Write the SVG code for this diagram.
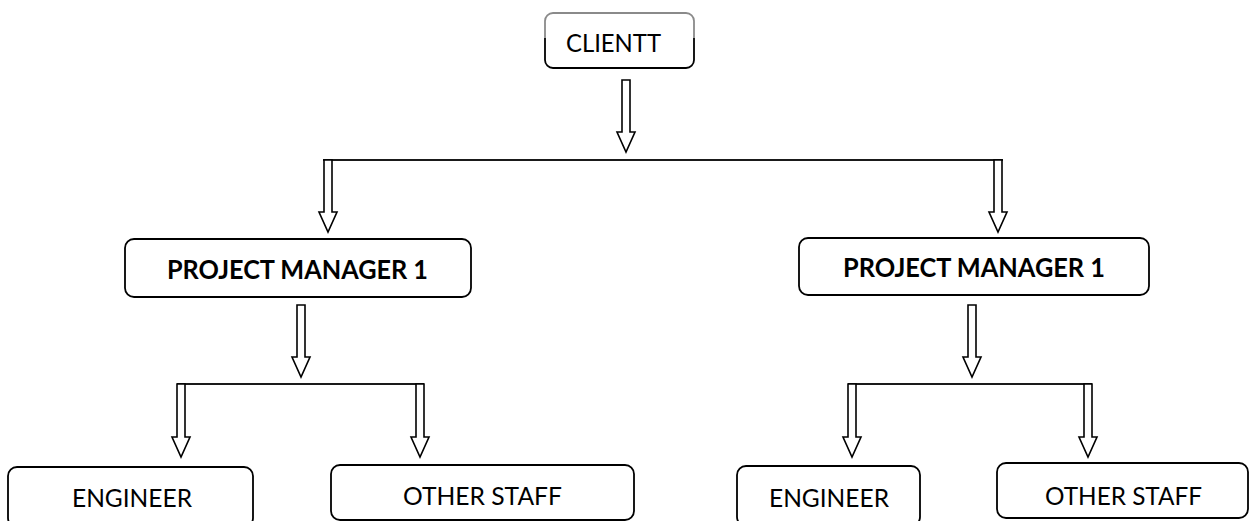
<svg xmlns="http://www.w3.org/2000/svg" width="1256" height="521" viewBox="0 0 1256 521">
  <style>
    .box { fill: #ffffff; stroke: #000000; stroke-width: 1.8; }
    .label { font-family: Lato, "Liberation Sans", Arial, sans-serif; font-size: 25.5px; fill: #000000; }
    .bold { font-weight: bold; font-size: 26px; }
    .bar { fill: none; stroke: #1a1a1a; stroke-width: 2; }
    .arrow { fill: #ffffff; stroke: #000000; stroke-width: 1.6; stroke-linejoin: miter; }
  </style>
  <defs>
    <!-- upper part of the client box outline is a lighter grey -->
    <linearGradient id="clientStroke" gradientUnits="userSpaceOnUse" x1="0" y1="13" x2="0" y2="68">
      <stop offset="0" stop-color="#8a8a8a"/>
      <stop offset="0.45" stop-color="#8a8a8a"/>
      <stop offset="0.45" stop-color="#000000"/>
      <stop offset="1" stop-color="#000000"/>
    </linearGradient>
  </defs>

  <g id="connectors">
    <!-- client to project managers -->
    <path class="arrow" d="M 622 80 L 630 80 L 630 132 L 635 132 L 626 152 L 617 132 L 622 132 Z"/>
    <path class="bar" d="M 323 160 L 1003 160"/>
    <path class="arrow" d="M 324 160 L 332 160 L 332 212 L 337 212 L 328 232 L 319 212 L 324 212 Z"/>
    <path class="arrow" d="M 994 160 L 1002 160 L 1002 212 L 1007 212 L 998 232 L 989 212 L 994 212 Z"/>

    <!-- left project manager to staff -->
    <path class="arrow" d="M 297 305 L 305 305 L 305 357 L 310 357 L 301 377 L 292 357 L 297 357 Z"/>
    <path class="bar" d="M 177 384 L 424 384"/>
    <path class="arrow" d="M 177 384 L 185 384 L 185 437 L 190 437 L 181 457 L 172 437 L 177 437 Z"/>
    <path class="arrow" d="M 416 384 L 424 384 L 424 437 L 429 437 L 420 457 L 411 437 L 416 437 Z"/>

    <!-- right project manager to staff -->
    <path class="arrow" d="M 968 305 L 976 305 L 976 357 L 981 357 L 972 377 L 963 357 L 968 357 Z"/>
    <path class="bar" d="M 848 384 L 1092 384"/>
    <path class="arrow" d="M 848 384 L 856 384 L 856 437 L 861 437 L 852 457 L 843 437 L 848 437 Z"/>
    <path class="arrow" d="M 1084 384 L 1092 384 L 1092 437 L 1097 437 L 1088 457 L 1079 437 L 1084 437 Z"/>
  </g>

  <g id="client">
    <rect x="545" y="13" width="149" height="55" rx="8" fill="#ffffff" stroke="url(#clientStroke)" stroke-width="1.8"/>
    <text class="label" x="566" y="52" textLength="95" lengthAdjust="spacingAndGlyphs">CLIENTT</text>
  </g>

  <g id="pm-left">
    <rect class="box" x="125" y="239" width="346" height="58" rx="9"/>
    <text class="label bold" x="167" y="279" textLength="261" lengthAdjust="spacingAndGlyphs">PROJECT MANAGER 1</text>
  </g>

  <g id="pm-right">
    <rect class="box" x="799" y="238" width="350" height="57" rx="9"/>
    <text class="label bold" x="843" y="277" textLength="262" lengthAdjust="spacingAndGlyphs">PROJECT MANAGER 1</text>
  </g>

  <g id="engineer-left">
    <rect class="box" x="8" y="467" width="245" height="60" rx="9"/>
    <text class="label" x="72" y="507" textLength="120" lengthAdjust="spacingAndGlyphs">ENGINEER</text>
  </g>

  <g id="staff-left">
    <rect class="box" x="331" y="465" width="303" height="55" rx="9"/>
    <text class="label" x="403" y="505" textLength="159" lengthAdjust="spacingAndGlyphs">OTHER STAFF</text>
  </g>

  <g id="engineer-right">
    <rect class="box" x="737" y="466" width="183" height="60" rx="9"/>
    <text class="label" x="769" y="507" textLength="120" lengthAdjust="spacingAndGlyphs">ENGINEER</text>
  </g>

  <g id="staff-right">
    <rect class="box" x="997" y="463" width="251" height="55" rx="9"/>
    <text class="label" x="1045" y="505" textLength="157" lengthAdjust="spacingAndGlyphs">OTHER STAFF</text>
  </g>
</svg>
